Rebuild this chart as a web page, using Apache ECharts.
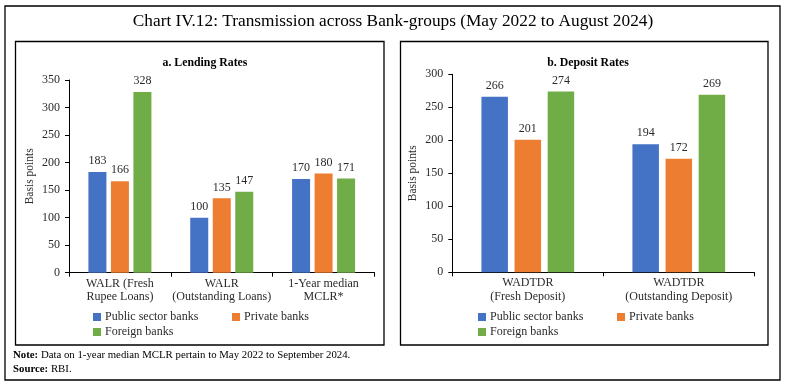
<!DOCTYPE html>
<html>
<head>
<meta charset="utf-8">
<script src="https://cdn.jsdelivr.net/npm/echarts@6/dist/echarts.min.js"></script>
<style>html,body{margin:0;padding:0;background:#fff}#c{width:786px;height:386px}</style>
</head>
<body>
<div id="c"></div>
<script>
const seriesNames = ['Public sector banks', 'Private banks', 'Foreign banks'];
const lendingCategories = ['WALR (Fresh\nRupee Loans)', 'WALR\n(Outstanding Loans)', '1-Year median\nMCLR*'];
const lendingPublic = [183, 100, 170];
const lendingPrivate = [166, 135, 180];
const lendingForeign = [328, 147, 171];
const depositCategories = ['WADTDR\n(Fresh Deposit)', 'WADTDR\n(Outstanding Deposit)'];
const depositPublic = [266, 194];
const depositPrivate = [201, 172];
const depositForeign = [274, 269];
const colors = ['#4472C4', '#ED7D31', '#70AD47'];

const FONT = 'Liberation Serif';
const TXT = '#2b2b2b';

function bar(name, data, idx, color, width) {
  return {
    type: 'bar', name: name, data: data, xAxisIndex: idx, yAxisIndex: idx,
    barWidth: width, barGap: '25%',
    itemStyle: { color: color },
    label: { show: true, position: 'top', distance: 5, color: TXT, fontFamily: FONT, fontSize: 12 },
    emphasis: { disabled: true }
  };
}
function legendItem(name, left, top) {
  return {
    data: [name], left: left, top: top, itemWidth: 8, itemHeight: 8, itemGap: 0,
    icon: 'rect', selectedMode: false,
    textStyle: { fontFamily: FONT, fontSize: 12, color: TXT, padding: [0, 0, 0, -1] },
    padding: 0
  };
}
const axisLine = { show: true, lineStyle: { color: '#000', width: 1 } };

const chart = echarts.init(document.getElementById('c'), null, { renderer: 'canvas' });
chart.setOption({
  animation: false,
  color: colors,
  textStyle: { fontFamily: FONT },
  title: [
    { text: 'Chart IV.12: Transmission across Bank-groups (May 2022 to August 2024)', left: 'center', top: 8,
      textStyle: { fontFamily: FONT, fontSize: 17.3, fontWeight: 'normal', color: '#000' } },
    { text: 'a. Lending Rates', left: 200, top: 52, textAlign: 'center',
      textStyle: { fontFamily: FONT, fontSize: 11.8, fontWeight: 'bold', color: '#000' } },
    { text: 'b. Deposit Rates', left: 583, top: 52, textAlign: 'center',
      textStyle: { fontFamily: FONT, fontSize: 11.8, fontWeight: 'bold', color: '#000' } }
  ],
  legend: [
    legendItem(seriesNames[0], 93, 311),
    legendItem(seriesNames[1], 232, 311),
    legendItem(seriesNames[2], 93, 326),
    legendItem(seriesNames[0], 478, 311),
    legendItem(seriesNames[1], 617, 311),
    legendItem(seriesNames[2], 478, 326)
  ],
  grid: [
    { left: 69, right: 411.5, top: 80, bottom: 113.3 },
    { left: 452.3, right: 31.7, top: 74.3, bottom: 113.7 }
  ],
  xAxis: [
    { type: 'category', gridIndex: 0, data: lendingCategories, axisLine: axisLine,
      axisTick: { show: true, length: 4, lineStyle: { color: '#000' } },
      axisLabel: { fontFamily: FONT, fontSize: 12, color: TXT, margin: 4, lineHeight: 13.5, interval: 0 } },
    { type: 'category', gridIndex: 1, data: depositCategories, axisLine: axisLine,
      axisTick: { show: true, length: 4, lineStyle: { color: '#000' } },
      axisLabel: { fontFamily: FONT, fontSize: 12, color: TXT, margin: 4, lineHeight: 13.5, interval: 0 } }
  ],
  yAxis: [
    { type: 'value', gridIndex: 0, min: 0, max: 350, interval: 50, axisLine: axisLine,
      axisTick: { show: true, length: 4, lineStyle: { color: '#000' } }, splitLine: { show: false },
      axisLabel: { fontFamily: FONT, fontSize: 12, color: TXT, margin: 9 },
      name: 'Basis points', nameLocation: 'middle', nameGap: 33,
      nameTextStyle: { fontFamily: FONT, fontSize: 11.5, color: TXT } },
    { type: 'value', gridIndex: 1, min: 0, max: 300, interval: 50, axisLine: axisLine,
      axisTick: { show: true, length: 4, lineStyle: { color: '#000' } }, splitLine: { show: false },
      axisLabel: { fontFamily: FONT, fontSize: 12, color: TXT, margin: 9 },
      name: 'Basis points', nameLocation: 'middle', nameGap: 33,
      nameTextStyle: { fontFamily: FONT, fontSize: 11.5, color: TXT } }
  ],
  series: [
    bar(seriesNames[0], lendingPublic, 0, colors[0], 18),
    bar(seriesNames[1], lendingPrivate, 0, colors[1], 18),
    bar(seriesNames[2], lendingForeign, 0, colors[2], 18),
    bar(seriesNames[0], depositPublic, 1, colors[0], 26.5),
    bar(seriesNames[1], depositPrivate, 1, colors[1], 26.5),
    bar(seriesNames[2], depositForeign, 1, colors[2], 26.5)
  ],
  graphic: [
    { type: 'rect', shape: { x: 5, y: 6, width: 775, height: 374 }, style: { fill: null, stroke: '#000', lineWidth: 1.3 }, silent: true, z: -1 },
    { type: 'rect', shape: { x: 15.5, y: 41.5, width: 368.5, height: 303.5 }, style: { fill: null, stroke: '#000', lineWidth: 1.3 }, silent: true, z: -1 },
    { type: 'rect', shape: { x: 400.5, y: 41.5, width: 367.5, height: 303.5 }, style: { fill: null, stroke: '#000', lineWidth: 1.3 }, silent: true, z: -1 },
    { type: 'text', left: 13, top: 350, style: {
        text: '{b|Note:} Data on 1-year median MCLR pertain to May 2022 to September 2024.',
        rich: { b: { fontWeight: 'bold', fontFamily: FONT, fontSize: 10.8, fill: '#000' } },
        font: '10.8px "Liberation Serif"', fill: '#000' } },
    { type: 'text', left: 13, top: 364, style: {
        text: '{b|Source:} RBI.',
        rich: { b: { fontWeight: 'bold', fontFamily: FONT, fontSize: 10.8, fill: '#000' } },
        font: '10.8px "Liberation Serif"', fill: '#000' } }
  ]
});
</script>
</body>
</html>
